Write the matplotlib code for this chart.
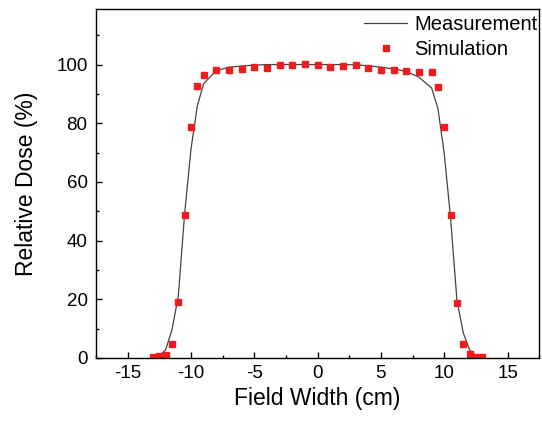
# Dose profile: measured vs simulated relative dose across the field.

import numpy as np
import matplotlib
matplotlib.use('Agg')
import matplotlib.pyplot as plt
from matplotlib.ticker import MultipleLocator

plt.rcParams['font.family'] = ['Liberation Sans', 'DejaVu Sans']
plt.rcParams['axes.unicode_minus'] = False

# Measured profile (line).
meas_x = [-13, -12.5, -12, -11.5, -11, -10.5, -10, -9.5, -9, -8, -7, -6, -5, -4,
          -3, -2, -1, 0, 1, 2, 3, 4, 5, 6, 7, 8, 9, 9.5, 10, 10.5, 11, 11.5,
          12, 12.5, 13]
meas_y = [0.0, 0.8, 2.7, 9.5, 21.0, 49.0, 71.0, 85.8, 93.5, 97.9, 99.1, 99.5,
          99.8, 100.0, 100.0, 100.0, 100.0, 100.0, 100.0, 100.0, 99.9, 99.6,
          99.1, 98.5, 97.7, 95.7, 92.0, 85.0, 69.5, 47.5, 19.5, 8.5, 2.7, 0.8,
          0.0]

# Simulated profile (points).
sim_x = [-13, -12.5, -12, -11.5, -11, -10.5, -10, -9.5, -9, -8, -7, -6, -5, -4,
         -3, -2, -1, 0, 1, 2, 3, 4, 5, 6, 7, 8, 9, 9.5, 10, 10.5, 11, 11.5,
         12, 12.5, 13]
sim_y = [0.2, 0.5, 1.0, 4.8, 18.9, 48.8, 78.7, 92.7, 96.3, 98.1, 98.2, 98.5,
         99.0, 98.9, 99.7, 99.7, 100.2, 99.8, 99.3, 99.5, 99.7, 98.8, 98.2,
         98.1, 97.8, 97.5, 97.3, 92.5, 78.6, 48.6, 18.7, 4.7, 1.3, 0.4, 0.2]

fig = plt.figure(figsize=(5.42, 4.21), dpi=100)
ax = fig.add_axes([0.177, 0.150, 0.818, 0.829])

ax.plot(meas_x, meas_y, color='#444444', lw=0.9, label='Measurement')
ax.plot(sim_x, sim_y, ls='none', marker='s', ms=4.4, color='#ee1c1c',
        mec='#ee1c1c', label='Simulation')

ax.set_xlim(-17.5, 17.5)
ax.set_ylim(0, 119)
ax.xaxis.set_major_locator(MultipleLocator(5))
ax.xaxis.set_minor_locator(MultipleLocator(2.5))
ax.yaxis.set_minor_locator(MultipleLocator(10))
ax.set_yticks([0, 20, 40, 60, 80, 100])

ax.tick_params(which='both', direction='in', top=False, right=False,
               width=1, labelsize=13.5)
ax.tick_params(which='major', length=4.5)
ax.tick_params(which='minor', length=2.5)
ax.tick_params(axis='x', pad=5)
ax.tick_params(axis='y', pad=6)
for s in ax.spines.values():
    s.set_linewidth(1.0)

ax.set_xlabel('Field Width (cm)', fontsize=16.5, labelpad=4)
ax.set_ylabel('Relative Dose (%)', fontsize=16.5, labelpad=13)

ax.legend(loc='upper right', bbox_to_anchor=(0.996, 0.982), frameon=False,
          fontsize=14.5, numpoints=1, handlelength=2.15, handletextpad=0.35,
          borderpad=0.0, borderaxespad=0.0, labelspacing=0.3)

fig.savefig('out.png', dpi=100)
